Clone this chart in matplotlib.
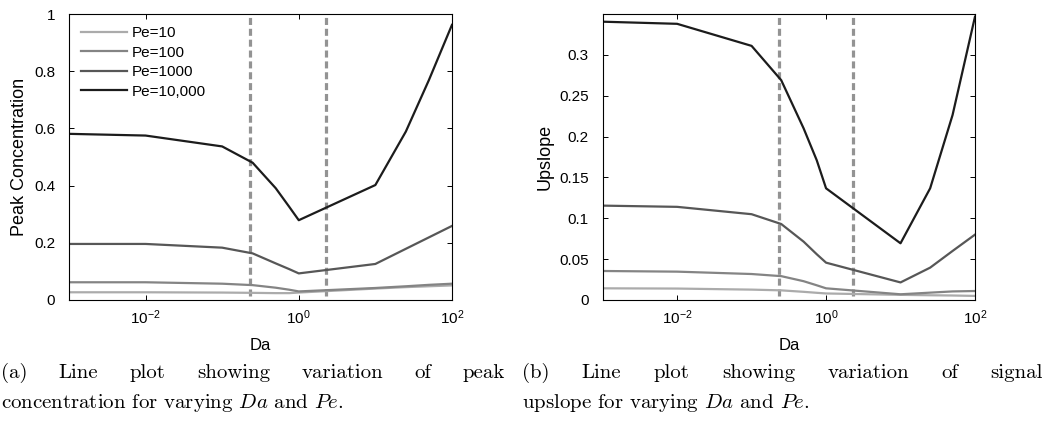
"""Peak concentration and upslope against Da for several Pe values."""

import matplotlib

matplotlib.use("Agg")
import matplotlib.pyplot as plt
from matplotlib.ticker import FormatStrFormatter, NullLocator

# Damkohler numbers sampled in the simulations
da = [0.001, 0.01, 0.1, 0.25, 0.5, 0.75, 1, 10, 25, 50, 100]
pe_labels = ["Pe=10", "Pe=100", "Pe=1000", "Pe=10,000"]

# (a) peak concentration
peak_pe10 = [0.027, 0.027, 0.026, 0.025, 0.024, 0.024, 0.026, 0.040, 0.045, 0.048, 0.051]
peak_pe100 = [0.062, 0.062, 0.057, 0.052, 0.043, 0.036, 0.030, 0.042, 0.048, 0.053, 0.057]
peak_pe1000 = [0.196, 0.196, 0.183, 0.163, 0.128, 0.108, 0.093, 0.126, 0.179, 0.219, 0.259]
peak_pe10000 = [0.581, 0.575, 0.537, 0.480, 0.391, 0.326, 0.279, 0.402, 0.589, 0.769, 0.962]

# (b) signal upslope
up_pe10 = [0.0143, 0.0140, 0.0127, 0.0118, 0.0100, 0.0088, 0.0080, 0.0063, 0.0058, 0.0055, 0.0050]
up_pe100 = [0.0355, 0.0347, 0.0318, 0.0292, 0.0230, 0.0180, 0.0143, 0.0070, 0.0090, 0.0105, 0.0110]
up_pe1000 = [0.1155, 0.1140, 0.1050, 0.0930, 0.0714, 0.0560, 0.0457, 0.0215, 0.0396, 0.0600, 0.0800]
up_pe10000 = [0.3406, 0.3380, 0.3110, 0.2690, 0.2100, 0.1710, 0.1367, 0.0694, 0.1367, 0.2264, 0.3467]

# regime boundaries drawn as dashed lines
transition_da = [0.23, 2.27]

line_colors = ["#ababab", "#848484", "#575757", "#1c1c1c"]

plt.rcParams["font.family"] = ["Liberation Sans", "DejaVu Sans"]
plt.rcParams["mathtext.fontset"] = "custom"
plt.rcParams["mathtext.rm"] = "Liberation Sans"
plt.rcParams["mathtext.it"] = "Liberation Sans:italic"
plt.rcParams["mathtext.bf"] = "Liberation Sans:bold"

fig = plt.figure(figsize=(10.45, 4.22), dpi=100)
ax_a = fig.add_axes([0.066, 0.2891, 0.3665, 0.6777])
ax_b = fig.add_axes([0.5767, 0.2891, 0.3563, 0.6777])


def style_axis(axis, ylim, ylabel):
    axis.set_xscale("log")
    axis.set_xlim(1e-3, 1e2)
    axis.set_ylim(*ylim)
    axis.set_xticks([1e-2, 1, 1e2])
    axis.set_xticklabels([r"$10^{-2}$", r"$10^{0}$", r"$10^{2}$"])
    axis.xaxis.set_minor_locator(NullLocator())
    axis.yaxis.set_major_formatter(FormatStrFormatter("%g"))
    axis.tick_params(direction="in", length=3.5, width=0.7, top=True, right=True,
                     labelsize=11, colors="black")
    axis.tick_params(axis="y", pad=10)
    axis.tick_params(axis="x", pad=6)
    for spine in axis.spines.values():
        spine.set_linewidth(0.8)
    axis.set_xlabel("Da", fontsize=12, labelpad=8)
    axis.set_ylabel(ylabel, fontsize=13, labelpad=4)
    for x in transition_da:
        axis.axvline(x, ymin=0.015, ymax=0.99, color="#939393", lw=2.3,
                     linestyle=(0, (2.2, 1.2)), zorder=1)


peak_series = [peak_pe10, peak_pe100, peak_pe1000, peak_pe10000]
up_series = [up_pe10, up_pe100, up_pe1000, up_pe10000]

for values, color, label in zip(peak_series, line_colors, pe_labels):
    ax_a.plot(da, values, color=color, lw=1.6, label=label, zorder=2)
for values, color, label in zip(up_series, line_colors, pe_labels):
    ax_b.plot(da, values, color=color, lw=1.6, label=label, zorder=2)

style_axis(ax_a, (0, 1), "Peak Concentration")
style_axis(ax_b, (0, 0.35), "Upslope")
ax_b.set_yticks([0, 0.05, 0.1, 0.15, 0.2, 0.25, 0.3])

ax_a.legend(loc="upper left", frameon=False, fontsize=11, handlelength=3.0,
            handletextpad=0.3, labelspacing=0.36, borderaxespad=0.4,
            bbox_to_anchor=(0.0, 1.0))

# captions, first line justified like the LaTeX original
renderer = fig.canvas.get_renderer()
fig_w = fig.get_figwidth() * fig.dpi
caption_kw = dict(fontfamily="cmr10", math_fontfamily="cm", fontsize=15,
                  va="baseline")


def justified(words, x0_px, x1_px, y):
    texts = [fig.text(0, y, w, **caption_kw) for w in words]
    widths = [t.get_window_extent(renderer).width for t in texts]
    gap = (x1_px - x0_px - sum(widths)) / (len(words) - 1)
    x = x0_px
    for t, w in zip(texts, widths):
        t.set_x(x / fig_w)
        x += w + gap


line1_y = 1 - 378 / 422
line2_y = 1 - 408 / 422
justified("(a) Line plot showing variation of peak".split(), 1, 505, line1_y)
fig.text(1 / fig_w, line2_y, r"concentration for varying $Da$ and $Pe$.", **caption_kw)
justified("(b) Line plot showing variation of signal".split(), 522, 1043, line1_y)
fig.text(522 / fig_w, line2_y, r"upslope for varying $Da$ and $Pe$.", **caption_kw)

fig.savefig("out.png", dpi=100)
